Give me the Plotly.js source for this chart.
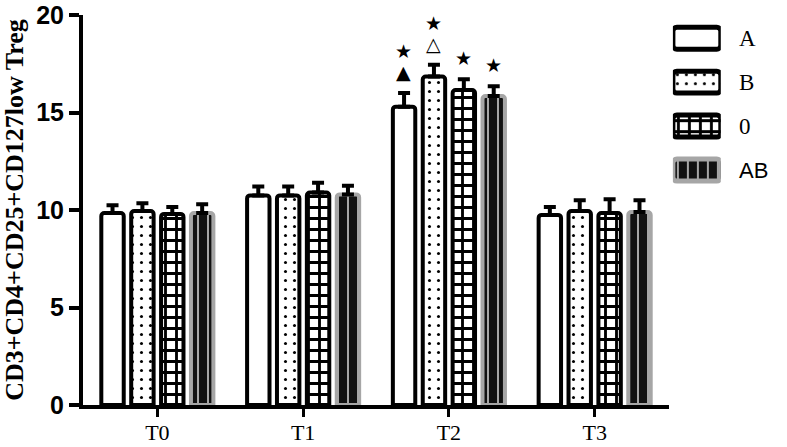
<!DOCTYPE html>
<html>
<head>
<meta charset="utf-8">
<script src="https://cdn.plot.ly/plotly-3.0.1.min.js"></script>
<style>
  html, body { margin: 0; padding: 0; background: #fff; }
  #chart { width: 787px; height: 447px; }
</style>
</head>
<body>
<div id="chart"></div>
<script>
// time points and blood groups
const groups = ['T0', 'T1', 'T2', 'T3'];
const series = ['A', 'B', '0', 'AB'];

// means
const valA  = [9.85, 10.75, 15.3, 9.75];
const valB  = [9.95, 10.75, 16.85, 9.95];
const valO  = [9.8, 10.9, 16.15, 9.85];
const valAB = [9.85, 10.8, 15.85, 9.9];

// upper error bars
const errA  = [0.4, 0.45, 0.7, 0.4];
const errB  = [0.4, 0.45, 0.6, 0.55];
const errO  = [0.35, 0.5, 0.55, 0.7];
const errAB = [0.45, 0.45, 0.5, 0.6];

// significance marks (only at T2)
const sigGroup = 'T2';
const sigNear = ['▲', '△', '★', '★'];
const sigFar  = ['★', '★', '', ''];

const gray = '#a6a6a6';

const styles = [
  { color: '#fff', line: '#000', pattern: { shape: '' } },
  { color: '#fff', line: '#000', pattern: { shape: '.', fgcolor: '#000', bgcolor: '#fff', size: 9, solidity: 0.09 } },
  { color: '#fff', line: '#000', pattern: { shape: '+', fgcolor: '#000', bgcolor: '#fff', size: 11, solidity: 0.45 } },
  { color: '#000', line: gray, pattern: { shape: '|', fgcolor: gray, bgcolor: '#111', size: 10, solidity: 0.2 } }
];

const values = [valA, valB, valO, valAB];
const errors = [errA, errB, errO, errAB];

const traces = [];

series.forEach((name, i) => {
  traces.push({
    type: 'bar',
    name: name,
    x: groups,
    y: values[i],
    marker: {
      color: styles[i].color,
      line: { color: styles[i].line, width: 4 },
      pattern: styles[i].pattern,
      cornerradius: 3
    },
    error_y: {
      type: 'data',
      symmetric: false,
      array: errors[i],
      arrayminus: errors[i].map(() => 0),
      color: '#000',
      thickness: 4,
      width: 6
    },
    showlegend: false,
    hoverinfo: 'x+y+name'
  });
});

// legend swatches drawn as bars on a small side axis
series.forEach((name, i) => {
  traces.push({
    type: 'bar',
    orientation: 'h',
    x: [1],
    y: [i],
    base: 0,
    width: 0.5,
    offset: -0.25,
    xaxis: 'x2',
    yaxis: 'y2',
    marker: {
      color: styles[i].color,
      line: { color: styles[i].line, width: 5 },
      pattern: styles[i].pattern,
      cornerradius: 4
    },
    showlegend: false,
    hoverinfo: 'skip'
  });
});

const annotations = [];
const slot = 30; // px between bar centres inside a group
const gi = groups.indexOf(sigGroup);
series.forEach((name, i) => {
  const top = values[i][gi] + errors[i][gi];
  const dx = (i - 1.5) * slot;
  if (sigNear[i]) {
    annotations.push({ x: sigGroup, y: top, xref: 'x', yref: 'y', text: sigNear[i], showarrow: false,
      xshift: dx, yshift: 21, font: { family: 'DejaVu Sans', size: 19, color: '#000' } });
  }
  if (sigFar[i]) {
    annotations.push({ x: sigGroup, y: top, xref: 'x', yref: 'y', text: sigFar[i], showarrow: false,
      xshift: dx, yshift: 42, font: { family: 'DejaVu Sans', size: 19, color: '#000' } });
  }
  // legend label
  annotations.push({ x: 1, y: i, xref: 'x2', yref: 'y2', text: name, showarrow: false,
    xanchor: 'left', xshift: 16,
    font: name === 'AB'
      ? { family: 'Liberation Sans', size: 22, color: '#000' }
      : { family: 'Liberation Serif', size: 23, color: '#000' } });
});

const layout = {
  width: 787,
  height: 447,
  margin: { l: 83, r: 10, t: 15, b: 42 },
  paper_bgcolor: '#fff',
  plot_bgcolor: '#fff',
  barmode: 'group',
  bargap: 0.18,
  bargroupgap: 0.25,
  showlegend: false,
  xaxis: {
    domain: [0, 0.8444],
    type: 'category',
    range: [-0.51, 3.51],
    showline: true,
    linewidth: 4,
    linecolor: '#000',
    ticks: 'outside',
    ticklen: 8,
    tickwidth: 3,
    tickcolor: '#000',
    ticklabelstandoff: -3,
    showgrid: false,
    zeroline: false,
    tickfont: { family: 'Liberation Serif', size: 22, color: '#000' }
  },
  yaxis: {
    range: [0, 20],
    tickvals: [0, 5, 10, 15, 20],
    showline: true,
    linewidth: 4,
    linecolor: '#000',
    ticks: 'outside',
    ticklen: 10,
    tickwidth: 4,
    tickcolor: '#000',
    showgrid: false,
    zeroline: false,
    tickfont: { family: 'Liberation Sans', size: 25, color: '#000', weight: 'bold' },
    title: {
      text: 'CD3+CD4+CD25+CD127low Treg',
      font: { family: 'Liberation Serif', size: 26, color: '#000', weight: 'bold' },
      standoff: 6
    }
  },
  xaxis2: {
    domain: [0.850, 0.919],
    anchor: 'y2',
    range: [0, 1],
    visible: false,
    fixedrange: true
  },
  yaxis2: {
    domain: [0.546, 0.997],
    anchor: 'x2',
    range: [3.5, -0.5],
    visible: false,
    fixedrange: true
  },
  annotations: annotations
};

Plotly.newPlot('chart', traces, layout, { displayModeBar: false, staticPlot: true });
</script>
</body>
</html>
